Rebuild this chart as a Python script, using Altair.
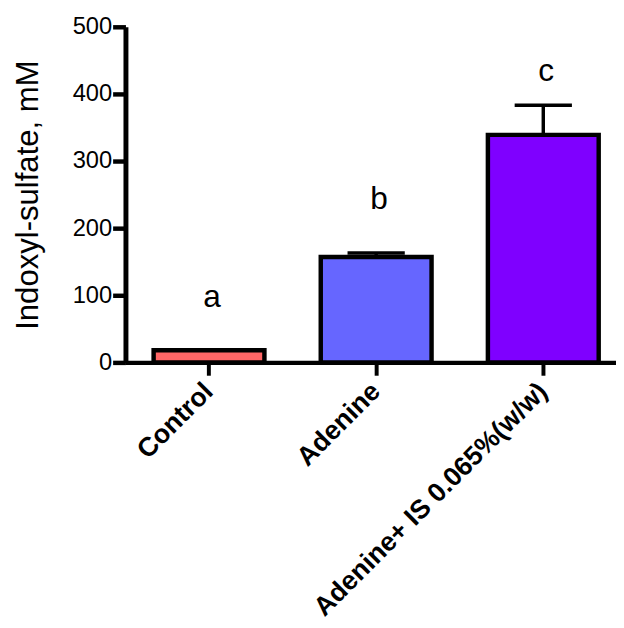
import altair as alt
import pandas as pd

groups = ["Control", "Adenine", "Adenine+ IS 0.065%(w/w)"]
means = [18, 157, 339]
errors = [0, 6, 44]
letters = ["a", "b", "c"]
letter_y = [82, 228, 419]
colors = ["#FF6666", "#6666FF", "#7F00FF"]

df = pd.DataFrame({
    "group": groups,
    "mean": means,
    "upper": [m + e for m, e in zip(means, errors)],
    "letter": letters,
    "ly": letter_y,
})
df_err = df[[e > 0 for e in errors]]

FONT = "Liberation Sans"

x = alt.X(
    "group:N",
    sort=groups,
    scale=alt.Scale(range=[0, 508], paddingInner=0.337, paddingOuter=0.1685),
    axis=alt.Axis(
        title=None,
        labelAngle=-45,
        labelAlign="right",
        labelBaseline="middle",
        labelFont=FONT,
        labelFontSize=27,
        labelFontWeight="bold",
        labelColor="black",
        labelPadding=12,
        labelLimit=600,
        tickSize=13,
        tickWidth=4,
        tickColor="black",
        domainWidth=4.5,
        domainColor="black",
    ),
)

yscale = alt.Scale(domain=[0, 500], nice=False)
yaxis = alt.Axis(
    title="Indoxyl-sulfate, mM",
    titleFont=FONT,
    titleFontSize=31.5,
    titleFontWeight="normal",
    titleColor="black",
    titlePadding=28,
    values=[0, 100, 200, 300, 400, 500],
    labelFont=FONT,
    labelFontSize=24,
    labelColor="black",
    labelPadding=1,
    tickSize=13,
    tickWidth=4.5,
    tickColor="black",
    domainWidth=5,
    domainColor="black",
    grid=False,
)

bars = alt.Chart(df).mark_bar(stroke="black", strokeWidth=4.5).encode(
    x=x,
    y=alt.Y("mean:Q", scale=yscale, axis=yaxis),
    color=alt.Color("group:N", scale=alt.Scale(domain=groups, range=colors), legend=None),
)

stem = alt.Chart(df_err).mark_rule(color="black", strokeWidth=3.5).encode(
    x=alt.X("group:N", sort=groups),
    y=alt.Y("mean:Q"),
    y2="upper:Q",
)

cap = alt.Chart(df_err).mark_tick(color="black", size=58, thickness=3.5, opacity=1).encode(
    x=alt.X("group:N", sort=groups),
    y=alt.Y("upper:Q"),
)

text = alt.Chart(df).mark_text(
    font=FONT, fontSize=32, baseline="alphabetic", align="center", dx=3, color="black"
).encode(
    x=alt.X("group:N", sort=groups),
    y=alt.Y("ly:Q"),
    text="letter:N",
)

chart = alt.layer(bars, stem, cap, text).properties(
    width=497,
    height=340,
    autosize=alt.AutoSizeParams(type="none"),
    padding={"left": 119, "top": 15, "right": 0, "bottom": 262},
    background="white",
).configure_view(stroke=None)

chart.save("out.html", embed_options={"renderer": "svg", "actions": False})
